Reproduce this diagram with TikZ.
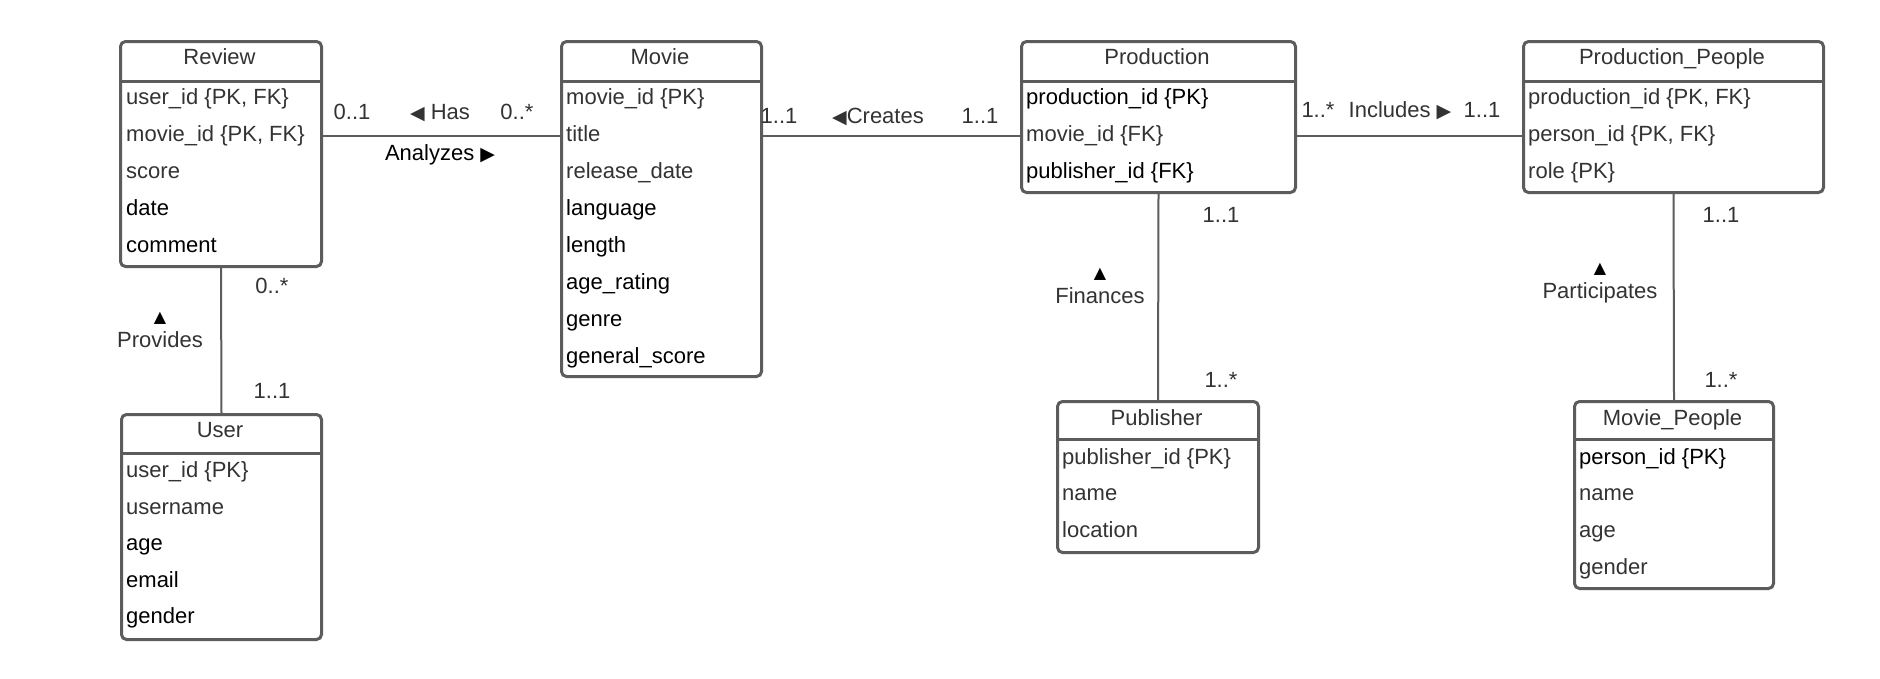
\documentclass[tikz,border=0pt]{standalone}
\usepackage{fontspec}
\setmainfont{Liberation Sans}
\newfontfamily\symfont{DejaVu Sans}
\usetikzlibrary{calc}
\definecolor{edge}{HTML}{5C5C5C}
\definecolor{txt}{HTML}{333333}
\newcommand\ltri{{\symfont\fontsize{19}{19}\selectfont ◀}}
\newcommand\rtri{{\symfont\fontsize{19}{19}\selectfont ▶}}
\tikzset{
  ebox/.style={draw=edge, line width=3pt, rounded corners=5pt, inner sep=0pt, fill=white},
  sepline/.style={draw=edge, line width=3pt},
  conn/.style={draw=edge, line width=2pt},
  ttl/.style={font=\fontsize{22}{26}\selectfont, text=txt, anchor=base, inner sep=0pt},
  att/.style={font=\fontsize{22}{26}\selectfont, text=txt, anchor=base west, inner sep=0pt},
  attb/.style={att, text=black},
  lbl/.style={font=\fontsize{22}{26}\selectfont, text=txt, anchor=base, inner sep=0pt},
  lblb/.style={lbl, text=black},
  uptri/.style={font=\symfont\fontsize{16}{16}\selectfont, text=black, inner sep=0pt},
}
% name, left, top, right, bottom, header-line y, title baseline, title
\newcommand\entity[8]{%
  \node[ebox, anchor=north west, minimum width={#4-#2}, minimum height={#5-#3}] (#1) at (#2,#3) {};
  \draw[sepline] (#2,#6) -- (#4,#6);
  \node[ttl] (#1-title) at ({(#2+#4)/2},#7) {#8};
}
\begin{document}
\begin{tikzpicture}[x=1pt,y=-1pt]
\useasboundingbox[fill=white] (0,0) rectangle (1880,678);

% Review
\entity{review}{119}{40}{320}{265}{81}{64}{Review}
\node[att]  (review-1) at (126,104) {user\_id \{PK, FK\}};
\node[att]  (review-2) at (126,141) {movie\_id \{PK, FK\}};
\node[att]  (review-3) at (126,178) {score};
\node[attb] (review-4) at (126,215) {date};
\node[attb] (review-5) at (126,252) {comment};

% Movie
\entity{movie}{560}{40}{760}{375}{81}{64}{Movie}
\node[att]  (movie-1) at (566,104) {movie\_id \{PK\}};
\node[att]  (movie-2) at (566,141) {title};
\node[att]  (movie-3) at (566,178) {release\_date};
\node[attb] (movie-4) at (566,215) {language};
\node[attb] (movie-5) at (566,252) {length};
\node[attb] (movie-6) at (566,289) {age\_rating};
\node[attb] (movie-7) at (566,326) {genre};
\node[attb] (movie-8) at (566,363) {general\_score};

% Production
\entity{production}{1020}{40}{1294}{191}{81}{64}{Production}
\node[attb] (production-1) at (1026,104) {production\_id \{PK\}};
\node[att]  (production-2) at (1026,141) {movie\_id \{FK\}};
\node[attb] (production-3) at (1026,178) {publisher\_id \{FK\}};

% Production_People
\entity{pp}{1522}{40}{1822}{191}{81}{64}{Production\_People}
\node[att] (pp-1) at (1528,104) {production\_id \{PK, FK\}};
\node[att] (pp-2) at (1528,141) {person\_id \{PK, FK\}};
\node[att] (pp-3) at (1528,178) {role \{PK\}};

% User
\entity{user}{120}{413}{320}{638}{453}{437}{User}
\node[att]  (user-1) at (126,477) {user\_id \{PK\}};
\node[att]  (user-2) at (126,514) {username};
\node[attb] (user-3) at (126,550) {age};
\node[attb] (user-4) at (126,587) {email};
\node[attb] (user-5) at (126,623) {gender};

% Publisher
\entity{publisher}{1056}{400}{1257}{551}{439}{425}{Publisher}
\node[att] (publisher-1) at (1062,464) {publisher\_id \{PK\}};
\node[att] (publisher-2) at (1062,500) {name};
\node[att] (publisher-3) at (1062,537) {location};

% Movie_People
\entity{mp}{1573}{400}{1772}{587}{439}{425}{Movie\_People}
\node[attb] (mp-1) at (1579,464) {person\_id \{PK\}};
\node[att]  (mp-2) at (1579,500) {name};
\node[att]  (mp-3) at (1579,537) {age};
\node[att]  (mp-4) at (1579,574) {gender};

% Connectors
\draw[conn] ($(review.north east)+(0,96)$) -- ($(movie.north west)+(0,96)$);
\draw[conn] ($(movie.north east)+(0,96)$) -- ($(production.north west)+(0,96)$);
\draw[conn] ($(production.north east)+(0,96)$) -- ($(pp.north west)+(0,96)$);
\draw[conn] (review.south) -- (user.north);
\draw[conn] (production.south) -- (publisher.north);
\draw[conn] (pp.south) -- (mp.north);

% Review - Movie labels
\node[lbl]  (m1) at (352,119) {0..1};
\node[lbl]  (has) at (440,119) {\ltri\ Has};
\node[lbl]  (m2) at (517,119) {0..*};
\node[lblb] (analyzes) at (440,160) {Analyzes \rtri};

% Movie - Production labels
\node[lbl] (m3) at (779,123) {1..1};
\node[lbl] (creates) at (878,123) {\ltri Creates};
\node[lbl] (m4) at (980,123) {1..1};

% Production - Production_People labels
\node[lbl] (m5) at (1318,117) {1..*};
\node[lbl] (includes) at (1400,117) {Includes \rtri};
\node[lbl] (m6) at (1482,117) {1..1};

% Review - User labels
\node[lbl] (m7) at (272,293) {0..*};
\node[uptri] (t1) at (160,318) {▲};
\node[lbl] (provides) at (160,347) {Provides};
\node[lbl] (m8) at (272,398) {1..1};

% Production - Publisher labels
\node[lbl] (m9) at (1221,222) {1..1};
\node[uptri] (t2) at (1100,274) {▲};
\node[lbl] (finances) at (1100,303) {Finances};
\node[lbl] (m10) at (1221,387) {1..*};

% Production_People - Movie_People labels
\node[lbl] (m11) at (1721,222) {1..1};
\node[uptri] (t3) at (1600,269) {▲};
\node[lbl] (participates) at (1600,298) {Participates};
\node[lbl] (m12) at (1721,387) {1..*};
\end{tikzpicture}
\end{document}
